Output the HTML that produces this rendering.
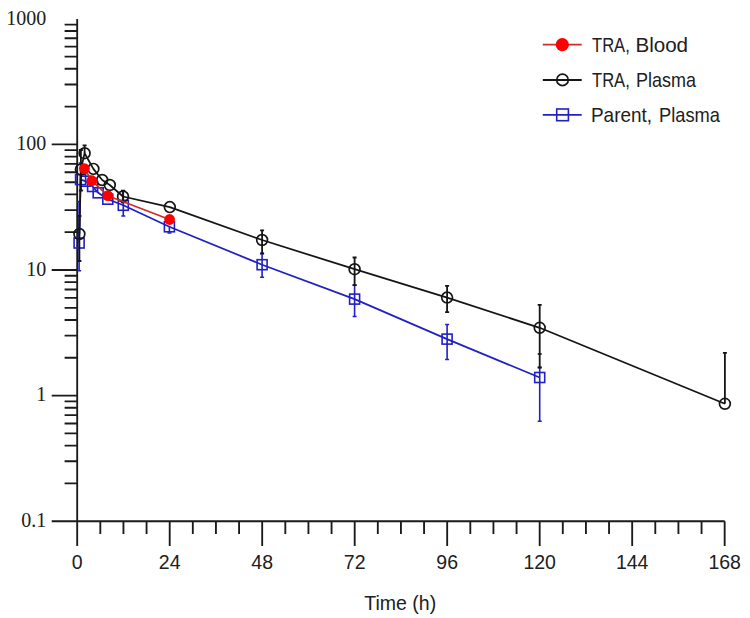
<!DOCTYPE html><html><head><meta charset="utf-8"><style>html,body{margin:0;padding:0;background:#fff;width:750px;height:618px;overflow:hidden}svg{display:block}</style></head><body>
<svg width="750" height="618" viewBox="0 0 750 618">
<rect width="750" height="618" fill="#fff"/>
<path d="M77.2 18.9V546 M51.7 521.2H724.7 M51.7 144.40H77.2 M51.7 270.00H77.2 M51.7 395.60H77.2 M64.6 483.39H77.2 M64.6 461.27H77.2 M64.6 445.58H77.2 M64.6 433.41H77.2 M64.6 423.46H77.2 M64.6 415.06H77.2 M64.6 407.77H77.2 M64.6 401.35H77.2 M64.6 357.79H77.2 M64.6 335.67H77.2 M64.6 319.98H77.2 M64.6 307.81H77.2 M64.6 297.86H77.2 M64.6 289.46H77.2 M64.6 282.17H77.2 M64.6 275.75H77.2 M64.6 232.19H77.2 M64.6 210.07H77.2 M64.6 194.38H77.2 M64.6 182.21H77.2 M64.6 172.26H77.2 M64.6 163.86H77.2 M64.6 156.57H77.2 M64.6 150.15H77.2 M64.6 106.59H77.2 M64.6 84.47H77.2 M64.6 68.78H77.2 M64.6 56.61H77.2 M64.6 46.66H77.2 M64.6 38.26H77.2 M64.6 30.97H77.2 M64.6 24.55H77.2 M100.32 521.2V534 M123.45 521.2V534 M146.57 521.2V534 M169.70 521.2V546 M192.82 521.2V534 M215.94 521.2V534 M239.07 521.2V534 M262.19 521.2V546 M285.32 521.2V534 M308.44 521.2V534 M331.56 521.2V534 M354.69 521.2V546 M377.81 521.2V534 M400.94 521.2V534 M424.06 521.2V534 M447.18 521.2V546 M470.31 521.2V534 M493.43 521.2V534 M516.56 521.2V534 M539.68 521.2V546 M562.80 521.2V534 M585.93 521.2V534 M609.05 521.2V534 M632.18 521.2V546 M655.30 521.2V534 M678.42 521.2V534 M701.55 521.2V534 M724.67 521.2V546" stroke="#1a1a1a" stroke-width="1.85" fill="none"/>
<text x="46.3" y="24.60" font-family="Liberation Serif, serif" font-size="20" text-anchor="end" fill="#202020">1000</text>
<text x="46.3" y="150.20" font-family="Liberation Serif, serif" font-size="20" text-anchor="end" fill="#202020">100</text>
<text x="46.3" y="275.80" font-family="Liberation Serif, serif" font-size="20" text-anchor="end" fill="#202020">10</text>
<text x="46.3" y="401.40" font-family="Liberation Serif, serif" font-size="20" text-anchor="end" fill="#202020">1</text>
<text x="46.3" y="527.00" font-family="Liberation Serif, serif" font-size="20" text-anchor="end" fill="#202020">0.1</text>
<text x="77.20" y="568.7" font-family="Liberation Sans, sans-serif" font-size="19.5" text-anchor="middle" fill="#202020">0</text>
<text x="169.70" y="568.7" font-family="Liberation Sans, sans-serif" font-size="19.5" text-anchor="middle" fill="#202020">24</text>
<text x="262.19" y="568.7" font-family="Liberation Sans, sans-serif" font-size="19.5" text-anchor="middle" fill="#202020">48</text>
<text x="354.69" y="568.7" font-family="Liberation Sans, sans-serif" font-size="19.5" text-anchor="middle" fill="#202020">72</text>
<text x="447.18" y="568.7" font-family="Liberation Sans, sans-serif" font-size="19.5" text-anchor="middle" fill="#202020">96</text>
<text x="539.68" y="568.7" font-family="Liberation Sans, sans-serif" font-size="19.5" text-anchor="middle" fill="#202020">120</text>
<text x="632.18" y="568.7" font-family="Liberation Sans, sans-serif" font-size="19.5" text-anchor="middle" fill="#202020">144</text>
<text x="724.67" y="568.7" font-family="Liberation Sans, sans-serif" font-size="19.5" text-anchor="middle" fill="#202020">168</text>
<text x="400.2" y="609.7" font-family="Liberation Sans, sans-serif" font-size="19.5" text-anchor="middle" fill="#202020">Time (h)</text>
<path d="M79.10 243.00V201.5M77.10 201.5h4 M79.10 243.00V270.8M77.10 270.8h4 M80.60 179.60V163M78.60 163h4 M123.30 205.30V191M121.30 191h4 M123.30 205.30V216M121.30 216h4 M169.40 226.80V233M167.40 233h4 M262.10 264.70V253.6M260.10 253.6h4 M262.10 264.70V277.3M260.10 277.3h4 M354.60 299.10V285.2M352.60 285.2h4 M354.60 299.10V316.5M352.60 316.5h4 M447.10 339.10V324.5M445.10 324.5h4 M447.10 339.10V359.5M445.10 359.5h4 M539.70 377.50V367.5M537.70 367.5h4 M539.70 377.50V421.2M537.70 421.2h4" stroke="#2020c4" stroke-width="1.6" fill="none"/>
<polyline points="79.10,243.00 80.60,179.60 85.40,181.20 92.60,186.50 98.20,192.80 107.80,199.20 123.30,205.30 169.40,226.80 262.10,264.70 354.60,299.10 447.10,339.10 539.70,377.50" stroke="#2020c4" stroke-width="1.75" fill="none" stroke-linejoin="round"/>
<rect x="74.10" y="238.00" width="10" height="10" stroke="#2020c4" stroke-width="1.6" fill="none"/>
<rect x="75.60" y="174.60" width="10" height="10" stroke="#2020c4" stroke-width="1.6" fill="none"/>
<rect x="80.40" y="176.20" width="10" height="10" stroke="#2020c4" stroke-width="1.6" fill="none"/>
<rect x="87.60" y="181.50" width="10" height="10" stroke="#2020c4" stroke-width="1.6" fill="none"/>
<rect x="93.20" y="187.80" width="10" height="10" stroke="#2020c4" stroke-width="1.6" fill="none"/>
<rect x="102.80" y="194.20" width="10" height="10" stroke="#2020c4" stroke-width="1.6" fill="none"/>
<rect x="118.30" y="200.30" width="10" height="10" stroke="#2020c4" stroke-width="1.6" fill="none"/>
<rect x="164.40" y="221.80" width="10" height="10" stroke="#2020c4" stroke-width="1.6" fill="none"/>
<rect x="257.10" y="259.70" width="10" height="10" stroke="#2020c4" stroke-width="1.6" fill="none"/>
<rect x="349.60" y="294.10" width="10" height="10" stroke="#2020c4" stroke-width="1.6" fill="none"/>
<rect x="442.10" y="334.10" width="10" height="10" stroke="#2020c4" stroke-width="1.6" fill="none"/>
<rect x="534.70" y="372.50" width="10" height="10" stroke="#2020c4" stroke-width="1.6" fill="none"/>
<path d="M79.40 234.00V216M77.40 216h4 M79.40 234.00V261M77.40 261h4 M80.90 169.50V150M78.90 150h4 M80.90 169.50V190.5M78.90 190.5h4 M84.60 153.20V145.3M82.60 145.3h4 M123.00 196.50V190.6M121.00 190.6h4 M123.00 196.50V202.4M121.00 202.4h4 M262.10 240.00V230.3M260.10 230.3h4 M262.10 240.00V253.4M260.10 253.4h4 M354.60 269.20V257.5M352.60 257.5h4 M354.60 269.20V285.2M352.60 285.2h4 M447.10 297.60V285.9M445.10 285.9h4 M447.10 297.60V312.1M445.10 312.1h4 M539.70 327.80V304.8M537.70 304.8h4 M539.70 327.80V367.5M537.70 367.5h4 M724.90 403.80V352.9M722.90 352.9h4" stroke="#151515" stroke-width="1.8" fill="none"/>
<path d="M537.7 354h4" stroke="#151515" stroke-width="1.6"/>
<polyline points="79.40,234.00 80.90,169.50 84.60,153.20 93.40,168.90 102.20,180.00 109.80,185.00 123.00,196.50 169.80,207.10 262.10,240.00 354.60,269.20 447.10,297.60 539.70,327.80 724.90,403.80" stroke="#151515" stroke-width="1.75" fill="none" stroke-linejoin="round"/>
<circle cx="79.40" cy="234.00" r="5.4" stroke="#151515" stroke-width="1.7" fill="none"/>
<circle cx="80.90" cy="169.50" r="5.4" stroke="#151515" stroke-width="1.7" fill="none"/>
<circle cx="84.60" cy="153.20" r="5.4" stroke="#151515" stroke-width="1.7" fill="none"/>
<circle cx="93.40" cy="168.90" r="5.4" stroke="#151515" stroke-width="1.7" fill="none"/>
<circle cx="102.20" cy="180.00" r="5.4" stroke="#151515" stroke-width="1.7" fill="none"/>
<circle cx="109.80" cy="185.00" r="5.4" stroke="#151515" stroke-width="1.7" fill="none"/>
<circle cx="123.00" cy="196.50" r="5.4" stroke="#151515" stroke-width="1.7" fill="none"/>
<circle cx="169.80" cy="207.10" r="5.4" stroke="#151515" stroke-width="1.7" fill="none"/>
<circle cx="262.10" cy="240.00" r="5.4" stroke="#151515" stroke-width="1.7" fill="none"/>
<circle cx="354.60" cy="269.20" r="5.4" stroke="#151515" stroke-width="1.7" fill="none"/>
<circle cx="447.10" cy="297.60" r="5.4" stroke="#151515" stroke-width="1.7" fill="none"/>
<circle cx="539.70" cy="327.80" r="5.4" stroke="#151515" stroke-width="1.7" fill="none"/>
<circle cx="724.90" cy="403.80" r="5.4" stroke="#151515" stroke-width="1.7" fill="none"/>
<polyline points="84.40,168.60 91.80,180.70 107.80,195.70 169.60,219.50" stroke="#cc2c2c" stroke-width="1.7" fill="none" stroke-linejoin="round"/>
<circle cx="84.40" cy="168.60" r="5.4" fill="#ff0000"/>
<circle cx="91.80" cy="180.70" r="5.4" fill="#ff0000"/>
<circle cx="107.80" cy="195.70" r="5.4" fill="#ff0000"/>
<circle cx="169.60" cy="219.50" r="5.4" fill="#ff0000"/>
<path d="M542.8 44.7H581.7" stroke="#cc2c2c" stroke-width="1.7"/><circle cx="562.3" cy="44.7" r="6.6" fill="#ff0000"/>
<path d="M542.8 80H581.7" stroke="#151515" stroke-width="1.8"/><circle cx="562.5" cy="79.9" r="5.75" stroke="#151515" stroke-width="1.7" fill="none"/>
<path d="M542.8 114.8H581.7" stroke="#2020c4" stroke-width="1.8"/><rect x="556.7" y="109" width="11.7" height="11.7" stroke="#2020c4" stroke-width="1.6" fill="none"/>
<text x="592.00" y="51.7" font-family="Liberation Sans, sans-serif" font-size="19.8" fill="#202020" textLength="37.80" lengthAdjust="spacingAndGlyphs">TRA,</text>
<text x="635.40" y="51.7" font-family="Liberation Sans, sans-serif" font-size="19.8" fill="#202020" textLength="52.67" lengthAdjust="spacingAndGlyphs">Blood</text>
<text x="592.00" y="86.8" font-family="Liberation Sans, sans-serif" font-size="19.8" fill="#202020" textLength="37.80" lengthAdjust="spacingAndGlyphs">TRA,</text>
<text x="636.00" y="86.8" font-family="Liberation Sans, sans-serif" font-size="19.8" fill="#202020" textLength="60.00" lengthAdjust="spacingAndGlyphs">Plasma</text>
<text x="591.00" y="122" font-family="Liberation Sans, sans-serif" font-size="19.8" fill="#202020" textLength="61.01" lengthAdjust="spacingAndGlyphs">Parent,</text>
<text x="659.00" y="122" font-family="Liberation Sans, sans-serif" font-size="19.8" fill="#202020" textLength="61.00" lengthAdjust="spacingAndGlyphs">Plasma</text>
</svg></body></html>
